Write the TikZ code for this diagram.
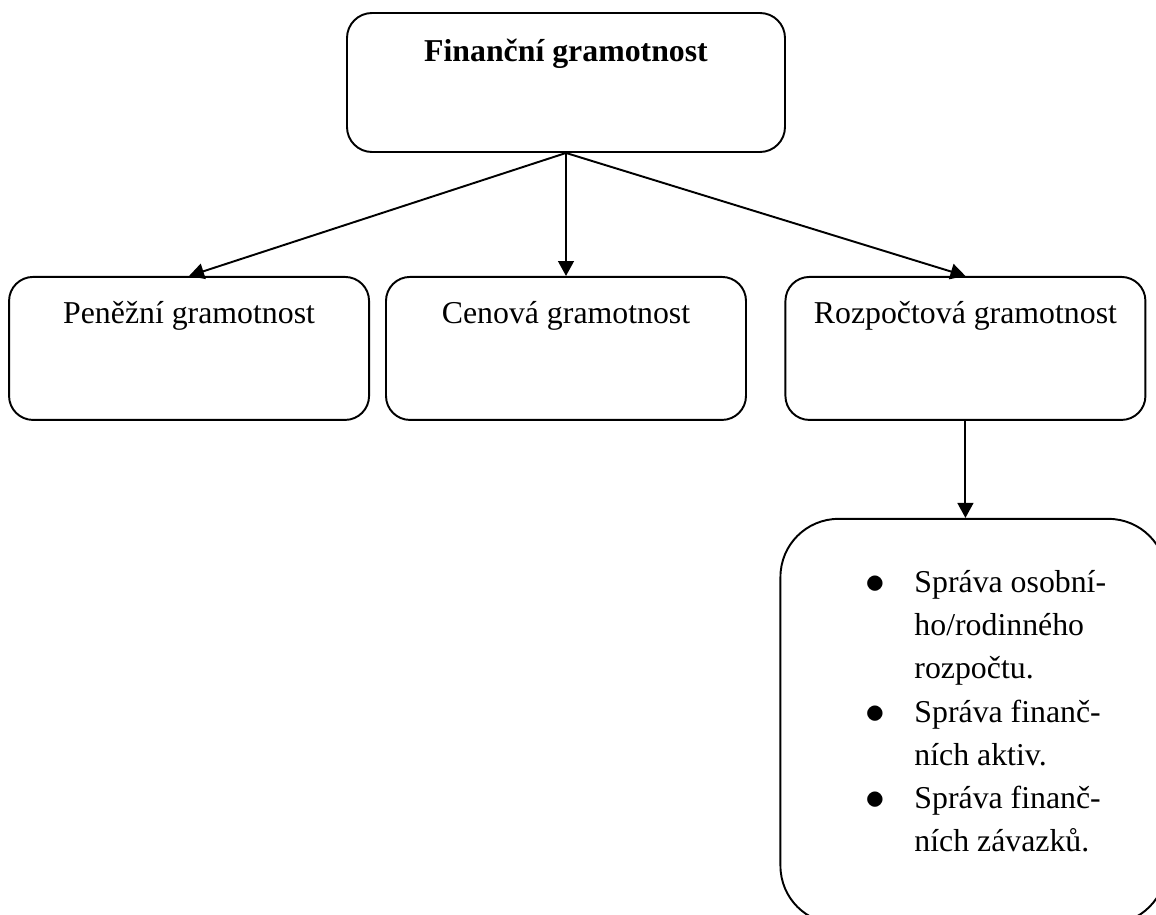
\documentclass[tikz,border=0pt]{standalone}
\usepackage{fontspec}
\setmainfont{Liberation Serif}
\usetikzlibrary{positioning,arrows.meta}
\tikzset{
    concept/.style={
           rectangle,
           rounded corners=0.48cm,
           draw=black, line width=1.1pt,
           inner sep=0pt,
           minimum width=7.2cm,
           text height=0.94cm,
           text depth=1.92cm,
           align=center,
           font=\fontsize{18.1}{24.5}\selectfont
           },
}
\newcommand{\listdot}{\raisebox{-0.6pt}{\scalebox{1.3}{$\bullet$}}}
\begin{document}
\begin{tikzpicture}[->,>={Triangle[width=9pt,length=8.5pt]},line width=1.1pt]

             \useasboundingbox (-11.32,-16.65) rectangle (11.8,1.65);

             \node[concept,
              minimum width=8.76cm,
              rounded corners=0.5cm,
              text height=0.98cm,
              text depth=1.8cm] (FG) at (0,0)
             {\textbf{Finanční gramotnost}};

             \node[concept,
              below=2.46cm of FG] (CEN)
             {Cenová gramotnost};

             \node[concept,
              left=0.3cm of CEN] (PEN)
             {Peněžní gramotnost};

             \node[concept,
              right=0.75cm of CEN] (ROZ)
             {Rozpočtová gramotnost};

%             bullet list box, runs off the page at right and bottom
             \node[concept,
              below=1.94cm of ROZ,
              xshift=0.16cm,
              minimum width=7.56cm,
              rounded corners=1.16cm,
              text height=1.48cm,
              text depth=6.62cm,
              align=left] (SPR)
             {%
             \begin{tabular}[t]{@{\hspace{1.7cm}}p{0.98cm}@{}p{4.88cm}@{}}
              \listdot & Správa osobní-\\
                       & ho/rodinného\\
                       & rozpočtu.\\
              \listdot & Správa finanč-\\
                       & ních aktiv.\\
              \listdot & Správa finanč-\\
                       & ních závazků.
             \end{tabular}
             };

             \path
             (FG.south) edge (PEN.north)
             (FG.south) edge (CEN.north)
             (FG.south) edge (ROZ.north)
             (ROZ.south) edge (ROZ.south |- SPR.north)
             ;

\end{tikzpicture}
\end{document}
